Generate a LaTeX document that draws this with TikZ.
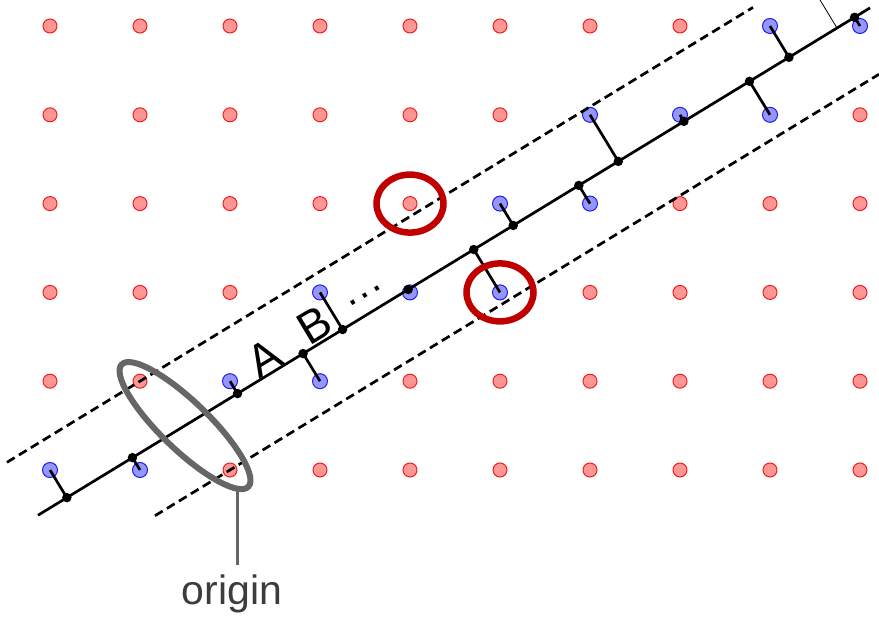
\documentclass[tikz,border=0pt]{standalone}
\usepackage{fontspec}
\setmainfont{Liberation Sans}
\usetikzlibrary{calc,shapes.geometric}
\definecolor{rfill}{RGB}{255,150,150}
\definecolor{rdraw}{RGB}{240,30,30}
\definecolor{bfill}{RGB}{150,150,255}
\definecolor{bdraw}{RGB}{30,30,240}
\definecolor{ringred}{RGB}{192,0,0}
\definecolor{ogray}{RGB}{102,102,102}
\definecolor{txtgray}{RGB}{60,60,60}
\begin{document}
\begin{tikzpicture}[x=1pt,y=1pt,
  reddot/.style={circle,fill=rfill,draw=rdraw,line width=1pt,minimum size=14pt,inner sep=0pt},
  bluedot/.style={circle,fill=bfill,draw=bdraw,line width=1pt,minimum size=15pt,inner sep=0pt},
  footdot/.style={circle,fill=black,minimum size=9.5pt,inner sep=0pt},
  mainline/.style={line width=2.7pt},
  stick/.style={line width=2.7pt},
  stripline/.style={line width=2.7pt,dash pattern=on 9pt off 5pt},
  redring/.style={ellipse,draw=ringred,line width=6.5pt,minimum width=67pt,minimum height=58pt,inner sep=0pt},
  grayring/.style={ellipse,draw=ogray,line width=6pt,minimum width=176pt,minimum height=48pt,inner sep=0pt,rotate=-44},
  conn/.style={draw=ogray,line width=2.5pt},
  lbl/.style={font=\fontsize{41}{41}\selectfont,inner sep=0pt},
  biglbl/.style={font=\fontsize{46}{46}\selectfont,inner sep=0pt}
]
\useasboundingbox (0,0) rectangle (879,619);
\begin{scope}[shift={(230,149)},x=90pt,y=88.8pt]
  % lattice points: blue inside the strip, red outside
  \foreach \i in {0,...,9}{
    \foreach \j in {0,...,5}{
      \pgfmathsetmacro\t{\j-0.618034*(\i-2)}
      \pgfmathtruncatemacro\ins{and(\t>0.001,\t<1.617)}
      \ifnum\ins=1
        \node[bluedot] (p\i\j) at ({\i-2},\j) {};
      \else
        \node[reddot] (p\i\j) at ({\i-2},\j) {};
      \fi
    }
  }
  % lines
  \coordinate (L1) at (-2.133,{0.809017-2.133*0.618034});
  \coordinate (L2) at (7.111,{0.809017+7.111*0.618034});
  \coordinate (U1) at (-2.478,{1.618034-2.478*0.618034});
  \coordinate (U2) at (5.811,{1.618034+5.811*0.618034});
  \coordinate (D1) at (-0.8333,{-0.8333*0.618034});
  \coordinate (D2) at (7.211,{7.211*0.618034});
  \draw[stripline] (U1) -- (U2);
  \draw[stripline] (D1) -- (D2);
  \draw[mainline] (L1) -- (L2);
  % projections
  \foreach \i/\j in {0/0,1/0,2/1,3/1,3/2,4/2,5/2,5/3,6/3,6/4,7/4,8/4,8/5,9/5}{
    \node[footdot] (f\i\j) at ($(L1)!(p\i\j)!(L2)$) {};
    \draw[stick] (p\i\j.center) -- (f\i\j.center);
  }
  % thin line at top right
  \coordinate (TP) at (6.556,5.293);
  \coordinate (TF) at ($(L1)!(TP)!(L2)$);
  \draw[line width=0.8pt] (TP) -- (TF);
  % red rings
  \node[redring] (ring1) at (p43) {};
  \node[redring] (ring2) at (p52) {};
  % origin ring
  \node[grayring] (og) at ($(p20)!0.5!(p11)$) {};
\end{scope}
% labels
\node[biglbl,rotate=31] (la) at (264,261) {A};
\node[biglbl,rotate=31] (lb) at (314,294) {B};
\node[lbl,rotate=31] (ld) at (365,323) {\addfontfeature{LetterSpace=6}...};
\node[lbl,text=txtgray,anchor=base] (orig) at (232,14) {origin};
\coordinate (ot) at (237.5,128);
\draw[conn] ([yshift=10pt]orig.north -| ot) -- (ot);
\end{tikzpicture}
\end{document}
